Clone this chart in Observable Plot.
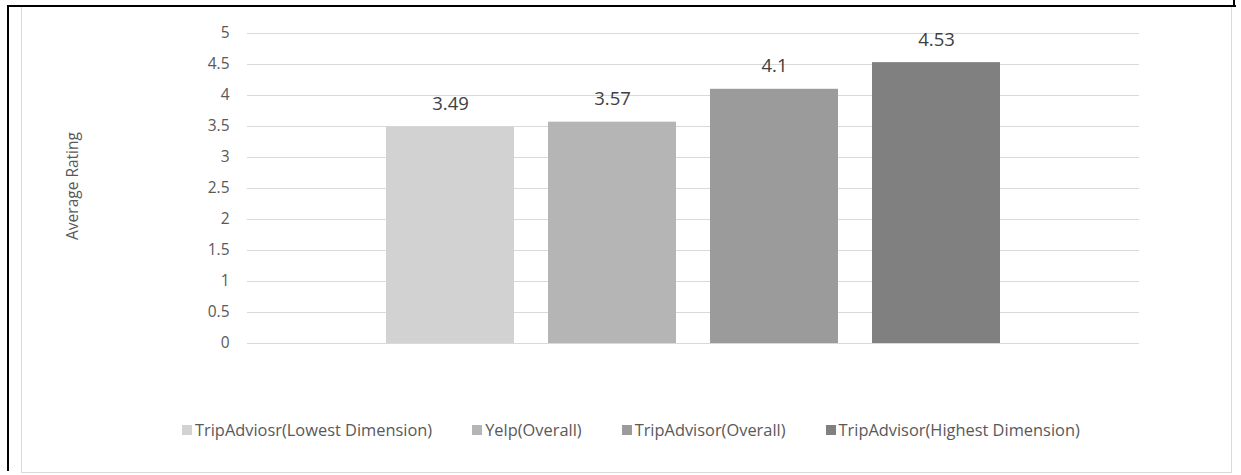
<!DOCTYPE html>
<html>
<head>
<meta charset="utf-8">
<script src="https://cdn.jsdelivr.net/npm/d3@7"></script>
<script src="https://cdn.jsdelivr.net/npm/@observablehq/plot@0.6"></script>
<style>
  html, body { margin: 0; padding: 0; background: #fff; }
  #wrap { position: relative; width: 1241px; height: 475px; overflow: hidden; font-family: "Open Sans", sans-serif; }
  #chart { position: absolute; left: 0; top: 0; }
  .frame-black-top { position: absolute; left: 7px; top: 5px; width: 1229px; height: 2px; background: #000; }
  .frame-black-left { position: absolute; left: 7px; top: 5px; width: 2px; height: 466px; background: #000; }
  .frame-black-right { position: absolute; left: 1233px; top: 0px; width: 2px; height: 7px; background: #000; }
  .frame-gray { position: absolute; left: 21px; top: 7px; width: 1209px; height: 465px; border: 1px solid #d9d9d9; border-top: none; box-sizing: content-box; }
  #legend { position: absolute; left: 182px; top: 419px; display: flex; gap: 40px; }
  .legend-item { height: 22px; display: flex; align-items: center; font-size: 16.4px; line-height: 22px; color: #595959; white-space: nowrap; }
  .legend-item .sw { width: 10px; height: 10px; margin-right: 3px; }
  .ylabel { position: absolute; left: 72px; top: 186px; transform: translate(-50%, -50%) rotate(-90deg); font-size: 15.5px; color: #595959; white-space: nowrap; }
</style>
</head>
<body>
<div id="wrap">
  <div class="frame-gray"></div>
  <div class="frame-black-top"></div>
  <div class="frame-black-left"></div>
  <div class="frame-black-right"></div>
  <div id="chart"></div>
  <div class="ylabel">Average Rating</div>
  <div id="legend"></div>
</div>
<script>
const series = ["TripAdviosr(Lowest Dimension)", "Yelp(Overall)", "TripAdvisor(Overall)", "TripAdvisor(Highest Dimension)"];
const ratings = [3.49, 3.57, 4.1, 4.53];
const labels = ["3.49", "3.57", "4.1", "4.53"];
const colors = ["#d2d2d2", "#b5b5b5", "#9b9b9b", "#808080"];
const yTicks = [0, 0.5, 1, 1.5, 2, 2.5, 3, 3.5, 4, 4.5, 5];
const yTickLabels = ["0", "0.5", "1", "1.5", "2", "2.5", "3", "3.5", "4", "4.5", "5"];

const data = series.map((s, i) => ({series: s, value: ratings[i], label: labels[i]}));

const plot = Plot.plot({
  width: 1241,
  height: 380,
  marginTop: 33,
  marginBottom: 37,
  marginLeft: 247,
  marginRight: 102,
  style: {fontFamily: "Open Sans, sans-serif", background: "transparent"},
  x: {domain: series, range: [369, 1017], paddingInner: 0.21, paddingOuter: 0.105, axis: null},
  y: {domain: [0, 5], axis: null},
  color: {domain: series, range: colors},
  marks: [
    Plot.ruleY(yTicks, {stroke: "#d9d9d9", strokeWidth: 1.2}),
    Plot.barY(data, {x: "series", y: "value", fill: "series"}),
    Plot.text(data, {x: "series", y: "value", text: "label", lineAnchor: "bottom", dy: -17, fontSize: 18.5, fill: "#404040"}),
    Plot.text(yTicks, {x: null, frameAnchor: "left", y: d => d, text: (d, i) => yTickLabels[i], textAnchor: "end", dx: -18, fontSize: 15.5, fill: "#595959"})
  ]
});
document.getElementById("chart").appendChild(plot);

const legend = document.getElementById("legend");
series.forEach((s, i) => {
  const item = document.createElement("div");
  item.className = "legend-item";
  const sw = document.createElement("span");
  sw.className = "sw";
  sw.style.background = colors[i];
  const t = document.createElement("span");
  t.textContent = s;
  item.appendChild(sw);
  item.appendChild(t);
  legend.appendChild(item);
});
</script>
</body>
</html>
